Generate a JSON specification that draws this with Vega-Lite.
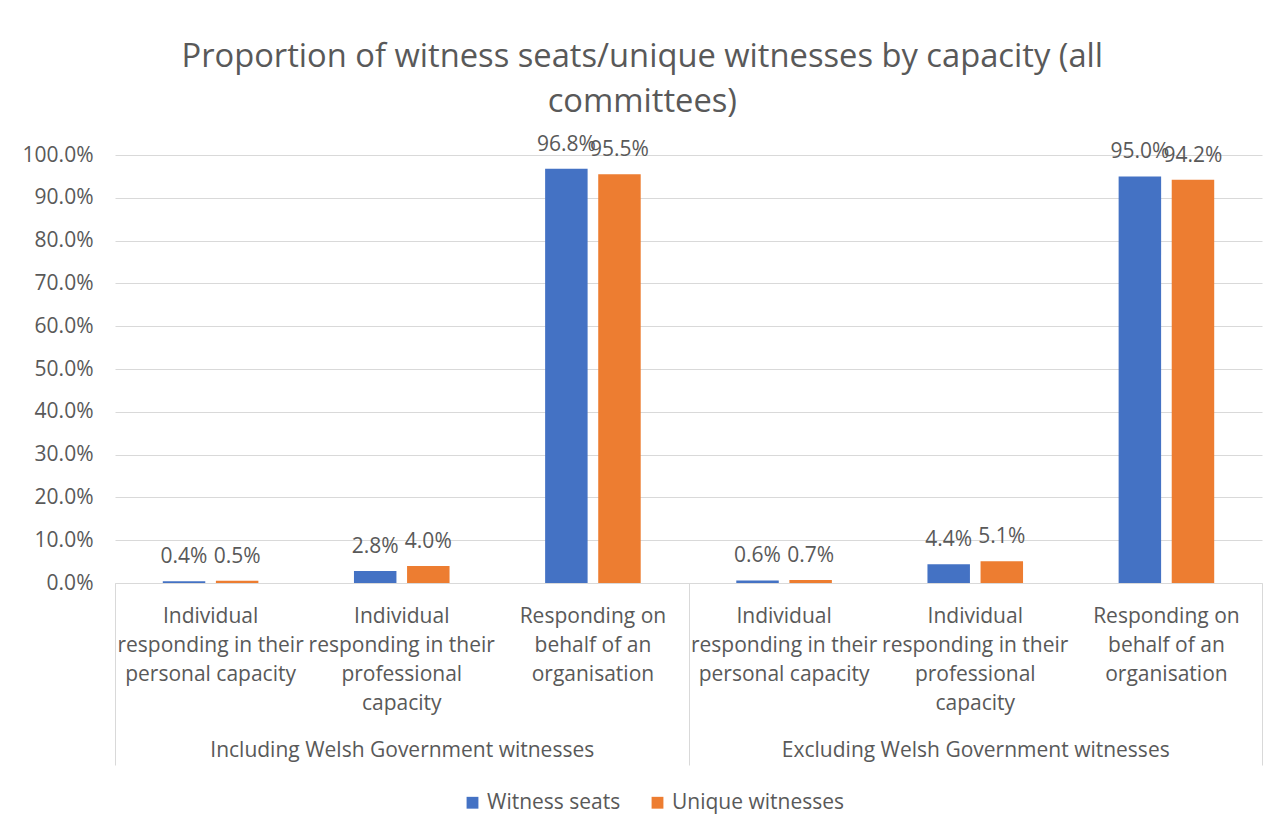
{
  "$schema": "https://vega.github.io/schema/vega-lite/v6.json",
  "width": 1147,
  "height": 428,
  "autosize": {"type": "none"},
  "padding": {"left": 115, "top": 155, "right": 25, "bottom": 250},
  "background": "white",
  "title": {
    "text": ["Proportion of witness seats/unique witnesses by capacity (all", "committees)"],
    "font": "Open Sans",
    "fontSize": 32.7,
    "fontWeight": "normal",
    "color": "#595959",
    "anchor": "middle",
    "frame": "bounds",
    "lineHeight": 45,
    "offset": 15
  },
  "data": {
    "values": [
      {"group": "Including Welsh Government witnesses", "cat": "1|Individual|responding in their|personal capacity", "series": "Witness seats", "value": 0.004},
      {"group": "Including Welsh Government witnesses", "cat": "1|Individual|responding in their|personal capacity", "series": "Unique witnesses", "value": 0.005},
      {"group": "Including Welsh Government witnesses", "cat": "2|Individual|responding in their|professional|capacity", "series": "Witness seats", "value": 0.028},
      {"group": "Including Welsh Government witnesses", "cat": "2|Individual|responding in their|professional|capacity", "series": "Unique witnesses", "value": 0.040},
      {"group": "Including Welsh Government witnesses", "cat": "3|Responding on|behalf of an|organisation", "series": "Witness seats", "value": 0.968},
      {"group": "Including Welsh Government witnesses", "cat": "3|Responding on|behalf of an|organisation", "series": "Unique witnesses", "value": 0.955},
      {"group": "Excluding Welsh Government witnesses", "cat": "4|Individual|responding in their|personal capacity", "series": "Witness seats", "value": 0.006},
      {"group": "Excluding Welsh Government witnesses", "cat": "4|Individual|responding in their|personal capacity", "series": "Unique witnesses", "value": 0.007},
      {"group": "Excluding Welsh Government witnesses", "cat": "5|Individual|responding in their|professional|capacity", "series": "Witness seats", "value": 0.044},
      {"group": "Excluding Welsh Government witnesses", "cat": "5|Individual|responding in their|professional|capacity", "series": "Unique witnesses", "value": 0.051},
      {"group": "Excluding Welsh Government witnesses", "cat": "6|Responding on|behalf of an|organisation", "series": "Witness seats", "value": 0.950},
      {"group": "Excluding Welsh Government witnesses", "cat": "6|Responding on|behalf of an|organisation", "series": "Unique witnesses", "value": 0.942}
    ]
  },
  "layer": [
    {
      "layer": [
        {
          "mark": {"type": "bar"},
          "encoding": {
            "x": {
              "field": "cat",
              "type": "nominal",
              "sort": "ascending",
              "scale": {"paddingInner": 0.5, "paddingOuter": 0.25},
              "axis": {
                "orient": "bottom",
                "title": null,
                "domain": false,
                "ticks": false,
                "labelAngle": 0,
                "labelPadding": 22,
                "labelLineHeight": 29,
                "labelLimit": 0,
                "labelOverlap": false,
                "labelBound": false,
                "labelExpr": "slice(split(datum.label, '|'), 1)"
              }
            },
            "xOffset": {
              "field": "series",
              "type": "nominal",
              "sort": ["Witness seats", "Unique witnesses"],
              "scale": {"paddingInner": 0.2}
            },
            "y": {
              "field": "value",
              "type": "quantitative",
              "scale": {"domain": [0, 1]},
              "axis": {"title": null}
            },
            "color": {
              "field": "series",
              "type": "nominal",
              "sort": ["Witness seats", "Unique witnesses"],
              "scale": {"domain": ["Witness seats", "Unique witnesses"], "range": ["#4472C4", "#ED7D31"]},
              "legend": {
                "orient": "none",
                "legendX": 347,
                "legendY": 637,
                "direction": "horizontal",
                "title": null,
                "symbolType": "square",
                "symbolSize": 140,
                "labelFontSize": 21,
                "labelColor": "#595959",
                "labelFont": "Open Sans",
                "labelLimit": 0,
                "columnPadding": 26,
                "symbolStrokeWidth": 0
              }
            }
          }
        },
        {
          "mark": {"type": "text", "baseline": "middle", "dy": -24, "fontSize": 21, "color": "#595959", "font": "Open Sans"},
          "encoding": {
            "x": {"field": "cat", "type": "nominal", "sort": "ascending"},
            "xOffset": {"field": "series", "type": "nominal", "sort": ["Witness seats", "Unique witnesses"]},
            "y": {"field": "value", "type": "quantitative"},
            "text": {"field": "value", "type": "quantitative", "format": ".1%"}
          }
        }
      ]
    },
    {
      "mark": {"type": "bar", "opacity": 0},
      "encoding": {
        "x": {
          "field": "group",
          "type": "nominal",
          "sort": ["Including Welsh Government witnesses", "Excluding Welsh Government witnesses"],
          "scale": {"paddingInner": 0, "paddingOuter": 0},
          "axis": {
            "orient": "bottom",
            "title": null,
            "domain": true,
            "domainColor": "#d9d9d9",
            "domainWidth": 1,
            "ticks": true,
            "tickBand": "extent",
            "tickSize": 182,
            "tickColor": "#d9d9d9",
            "tickWidth": 1,
            "labelAngle": 0,
            "labelPadding": -26,
            "labelLimit": 0,
            "labelOverlap": false,
            "labelBound": false
          }
        },
        "y": {"datum": 0, "type": "quantitative"}
      }
    }
  ],
  "resolve": {"scale": {"x": "independent"}, "axis": {"x": "independent"}},
  "config": {
    "font": "Open Sans",
    "view": {"stroke": null},
    "axis": {"labelColor": "#595959", "labelFontSize": 21, "labelFont": "Open Sans"},
    "axisY": {
      "grid": true,
      "gridColor": "#d9d9d9",
      "gridWidth": 1,
      "domain": false,
      "ticks": false,
      "labelPadding": 22,
      "values": [0, 0.1, 0.2, 0.3, 0.4, 0.5, 0.6, 0.7, 0.8, 0.9, 1.0],
      "format": ".1%",
      "title": null
    }
  }
}
